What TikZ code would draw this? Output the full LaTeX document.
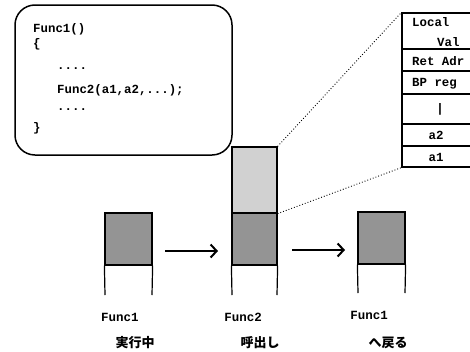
\documentclass[tikz,border=0pt]{standalone}
\usepackage{fontspec}
\setmonofont{Liberation Mono}
\newfontfamily\cjk{Noto Sans CJK JP}
\usetikzlibrary{arrows.meta}
\begin{document}
\begin{tikzpicture}[x=1pt,y=-1pt,
  code/.style={font=\ttfamily\bfseries\fontsize{12.4}{12.4}\selectfont, inner sep=0pt},
  lab/.style={font=\ttfamily\bfseries\fontsize{12.5}{12.5}\selectfont, inner sep=0pt},
  jlab/.style={font=\cjk\bfseries\fontsize{13}{13}\selectfont, inner sep=0pt},
  dark/.style={draw, line width=1.2pt, fill=black!42, inner sep=0pt},
  light/.style={draw, line width=1.2pt, fill=black!18, inner sep=0pt},
  wall/.style={line width=1.2pt},
  row/.style={draw, line width=1.2pt, inner sep=0pt, minimum width=69pt},
  flow/.style={line width=2.2pt, -{Straight Barb[length=6pt,width=13pt,line width=2pt]}},
  link/.style={dotted, line width=0.9pt}]
\useasboundingbox (0,0) rectangle (470,351);

% code box
\node (codebox) [draw, line width=1.5pt, rounded corners=20pt, minimum width=217pt, minimum height=150pt] at (123.5,80) {};
\node (c1) [code, anchor=base west] at (33,32) {Func1()};
\node (c2) [code, anchor=base west] at (33,47) {\{};
\node (c3) [code, anchor=base west] at (57,69) {....};
\node (c4) [code, anchor=base west] at (57,93) {Func2(a1,a2,...);};
\node (c5) [code, anchor=base west] at (57,110) {....};
\node (c6) [code, anchor=base west] at (33,131) {\}};

% stack detail
\node (r1) [row, minimum height=36pt] at (436.5,31) {};
\node (r2) [row, minimum height=22pt] at (436.5,60) {};
\node (r3) [row, minimum height=23pt] at (436.5,82.5) {};
\node (r4) [row, minimum height=30pt] at (436.5,109) {};
\node (r5) [row, minimum height=22pt] at (436.5,135) {};
\node (r6) [row, minimum height=21pt] at (436.5,156.5) {};
\node (t1) [code, anchor=west] at (412,22) {Local};
\node (t1b) [code, anchor=west] at (437,42) {Val};
\node (t2) [code, anchor=west] at (412,61) {Ret Adr};
\node (t3) [code, anchor=west] at (412,84) {BP reg};
\node (t4) [code] at (440,109) {|};
\node (t5) [code] at (436,135) {a2};
\node (t6) [code] at (436,157) {a1};

% stack 1
\node (s1) [dark, minimum width=47pt, minimum height=52pt] at (128.5,239) {};
\coordinate (s1l) at (105,295);
\coordinate (s1r) at (152,295);
\draw[wall] (s1.south west) -- (s1l);
\draw[wall] (s1.south east) -- (s1r);

% stack 2
\node (s2) [dark, minimum width=45pt, minimum height=52pt] at (254.5,239) {};
\node (s2u) [light, minimum width=45pt, minimum height=66pt] at (254.5,180) {};
\coordinate (s2l) at (232,295);
\coordinate (s2r) at (277,295);
\draw[wall] (s2.south west) -- (s2l);
\draw[wall] (s2.south east) -- (s2r);

% stack 3
\node (s3) [dark, minimum width=47pt, minimum height=52pt] at (381.5,238) {};
\coordinate (s3l) at (358,293);
\coordinate (s3r) at (405,293);
\draw[wall] (s3.south west) -- (s3l);
\draw[wall] (s3.south east) -- (s3r);

% arrows
\coordinate (a1s) at (165,251);
\coordinate (a1e) at (218,251);
\coordinate (a2s) at (292,250);
\coordinate (a2e) at (345,250);
\draw[flow] (a1s) -- (a1e);
\draw[flow] (a2s) -- (a2e);

% dotted links
\draw[link] (s2u.north east) -- (r1.north west);
\draw[link] (s2u.south east) -- (r6.south west);

% labels
\node (l1) [lab] at (120,317) {Func1};
\node (l2) [lab] at (243,317) {Func2};
\node (l3) [lab] at (369,315) {Func1};
\node (j1) [jlab] at (135,343) {実行中};
\node (j2) [jlab] at (260,343) {呼出し};
\node (j3) [jlab] at (388,343) {へ戻る};
\end{tikzpicture}
\end{document}
